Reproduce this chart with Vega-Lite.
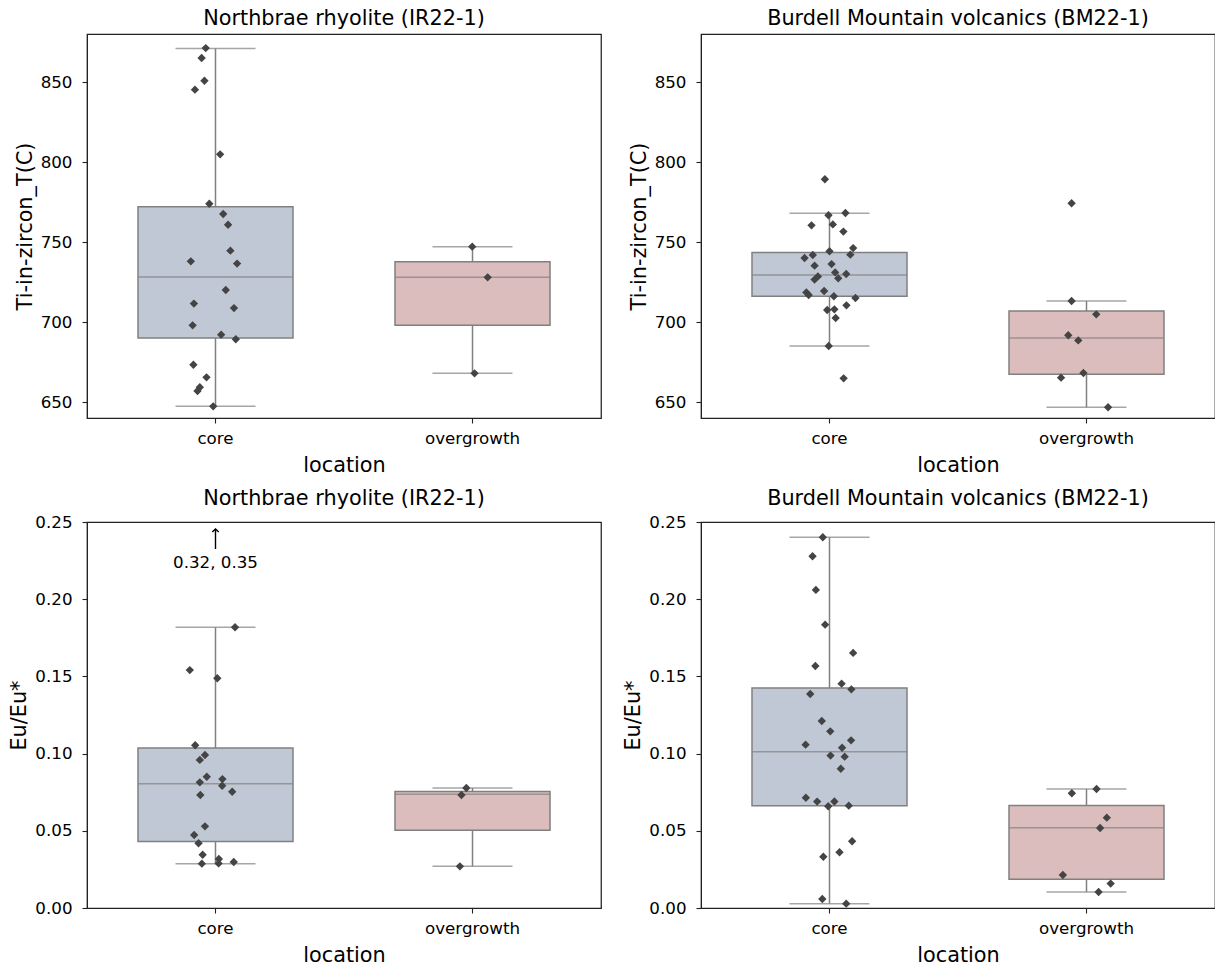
{
  "$schema": "https://vega.github.io/schema/vega-lite/v6.json",
  "padding": {"left": 8, "top": 7, "right": 0, "bottom": 0},
  "background": "white",
  "config": {
    "font": "DejaVu Sans",
    "view": {"stroke": "#222222", "strokeWidth": 1.25},
    "axis": {"grid": false, "labelFont": "DejaVu Sans", "labelFontSize": 16.7, "labelColor": "#000000", "titleFont": "DejaVu Sans", "titleFontSize": 20.8, "titleFontWeight": "normal", "titleColor": "#000000", "tickColor": "#222222", "domainColor": "#222222", "tickSize": 5, "tickWidth": 1.1},
    "axisX": {"labelPadding": 7, "titlePadding": 9},
    "axisY": {"labelPadding": 10, "titlePadding": 5},
    "title": {"font": "DejaVu Sans", "fontSize": 20.8, "fontWeight": "normal", "color": "#000000", "offset": 4, "baseline": "alphabetic"}
  },
  "datasets": {
    "boxes": [
      {"panel": "TL", "location": "core", "lower": 647.3, "q1": 690.0, "median": 728.1, "q3": 772.1, "upper": 871.0},
      {"panel": "TL", "location": "overgrowth", "lower": 667.9, "q1": 698.0, "median": 728.0, "q3": 737.6, "upper": 747.1},
      {"panel": "TR", "location": "core", "lower": 685.0, "q1": 716.1, "median": 729.4, "q3": 743.5, "upper": 767.9},
      {"panel": "TR", "location": "overgrowth", "lower": 646.7, "q1": 667.3, "median": 690.0, "q3": 706.8, "upper": 713.1},
      {"panel": "BL", "location": "core", "lower": 0.0287, "q1": 0.043, "median": 0.0805, "q3": 0.1036, "upper": 0.1818},
      {"panel": "BL", "location": "overgrowth", "lower": 0.027, "q1": 0.0503, "median": 0.0736, "q3": 0.0755, "upper": 0.0777},
      {"panel": "BR", "location": "core", "lower": 0.0028, "q1": 0.0663, "median": 0.1012, "q3": 0.1425, "upper": 0.2401},
      {"panel": "BR", "location": "overgrowth", "lower": 0.0104, "q1": 0.0186, "median": 0.052, "q3": 0.0664, "upper": 0.0771}
    ],
    "pts": [
      {"panel": "TL", "location": "core", "value": 871.2, "jitter": -0.038},
      {"panel": "TL", "location": "core", "value": 865.0, "jitter": -0.054},
      {"panel": "TL", "location": "core", "value": 850.8, "jitter": -0.043},
      {"panel": "TL", "location": "core", "value": 845.2, "jitter": -0.080},
      {"panel": "TL", "location": "core", "value": 804.8, "jitter": 0.018},
      {"panel": "TL", "location": "core", "value": 773.9, "jitter": -0.024},
      {"panel": "TL", "location": "core", "value": 767.5, "jitter": 0.030},
      {"panel": "TL", "location": "core", "value": 760.8, "jitter": 0.049},
      {"panel": "TL", "location": "core", "value": 744.6, "jitter": 0.058},
      {"panel": "TL", "location": "core", "value": 737.9, "jitter": -0.096},
      {"panel": "TL", "location": "core", "value": 736.5, "jitter": 0.084},
      {"panel": "TL", "location": "core", "value": 720.0, "jitter": 0.040},
      {"panel": "TL", "location": "core", "value": 711.5, "jitter": -0.084},
      {"panel": "TL", "location": "core", "value": 708.7, "jitter": 0.072},
      {"panel": "TL", "location": "core", "value": 697.9, "jitter": -0.089},
      {"panel": "TL", "location": "core", "value": 692.1, "jitter": 0.022},
      {"panel": "TL", "location": "core", "value": 689.2, "jitter": 0.079},
      {"panel": "TL", "location": "core", "value": 673.3, "jitter": -0.086},
      {"panel": "TL", "location": "core", "value": 665.4, "jitter": -0.035},
      {"panel": "TL", "location": "core", "value": 659.2, "jitter": -0.061},
      {"panel": "TL", "location": "core", "value": 656.9, "jitter": -0.070},
      {"panel": "TL", "location": "core", "value": 647.3, "jitter": -0.009},
      {"panel": "TL", "location": "overgrowth", "value": 747.1, "jitter": -0.001},
      {"panel": "TL", "location": "overgrowth", "value": 727.9, "jitter": 0.059},
      {"panel": "TL", "location": "overgrowth", "value": 667.9, "jitter": 0.008},
      {"panel": "TR", "location": "core", "value": 789.2, "jitter": -0.018},
      {"panel": "TR", "location": "core", "value": 766.7, "jitter": -0.004},
      {"panel": "TR", "location": "core", "value": 768.1, "jitter": 0.062},
      {"panel": "TR", "location": "core", "value": 760.4, "jitter": -0.070},
      {"panel": "TR", "location": "core", "value": 761.0, "jitter": 0.013},
      {"panel": "TR", "location": "core", "value": 756.5, "jitter": 0.054},
      {"panel": "TR", "location": "core", "value": 746.2, "jitter": 0.092},
      {"panel": "TR", "location": "core", "value": 744.2, "jitter": 0.0},
      {"panel": "TR", "location": "core", "value": 742.1, "jitter": 0.081},
      {"panel": "TR", "location": "core", "value": 741.9, "jitter": -0.065},
      {"panel": "TR", "location": "core", "value": 740.0, "jitter": -0.097},
      {"panel": "TR", "location": "core", "value": 735.2, "jitter": -0.058},
      {"panel": "TR", "location": "core", "value": 736.2, "jitter": 0.008},
      {"panel": "TR", "location": "core", "value": 731.0, "jitter": 0.022},
      {"panel": "TR", "location": "core", "value": 730.0, "jitter": 0.065},
      {"panel": "TR", "location": "core", "value": 728.5, "jitter": -0.045},
      {"panel": "TR", "location": "core", "value": 726.5, "jitter": -0.058},
      {"panel": "TR", "location": "core", "value": 727.3, "jitter": 0.034},
      {"panel": "TR", "location": "core", "value": 718.5, "jitter": -0.090},
      {"panel": "TR", "location": "core", "value": 716.9, "jitter": -0.081},
      {"panel": "TR", "location": "core", "value": 719.4, "jitter": -0.021},
      {"panel": "TR", "location": "core", "value": 716.1, "jitter": 0.017},
      {"panel": "TR", "location": "core", "value": 715.0, "jitter": 0.101},
      {"panel": "TR", "location": "core", "value": 710.4, "jitter": 0.066},
      {"panel": "TR", "location": "core", "value": 707.5, "jitter": -0.009},
      {"panel": "TR", "location": "core", "value": 707.9, "jitter": 0.019},
      {"panel": "TR", "location": "core", "value": 702.5, "jitter": 0.024},
      {"panel": "TR", "location": "core", "value": 685.0, "jitter": -0.003},
      {"panel": "TR", "location": "core", "value": 664.8, "jitter": 0.055},
      {"panel": "TR", "location": "overgrowth", "value": 774.2, "jitter": -0.058},
      {"panel": "TR", "location": "overgrowth", "value": 713.1, "jitter": -0.058},
      {"panel": "TR", "location": "overgrowth", "value": 704.8, "jitter": 0.038},
      {"panel": "TR", "location": "overgrowth", "value": 691.7, "jitter": -0.071},
      {"panel": "TR", "location": "overgrowth", "value": 688.5, "jitter": -0.032},
      {"panel": "TR", "location": "overgrowth", "value": 668.1, "jitter": -0.012},
      {"panel": "TR", "location": "overgrowth", "value": 665.2, "jitter": -0.099},
      {"panel": "TR", "location": "overgrowth", "value": 646.7, "jitter": 0.084},
      {"panel": "BL", "location": "core", "value": 0.35, "jitter": 0.0},
      {"panel": "BL", "location": "core", "value": 0.32, "jitter": 0.0},
      {"panel": "BL", "location": "core", "value": 0.1818, "jitter": 0.076},
      {"panel": "BL", "location": "core", "value": 0.1541, "jitter": -0.100},
      {"panel": "BL", "location": "core", "value": 0.1488, "jitter": 0.007},
      {"panel": "BL", "location": "core", "value": 0.1054, "jitter": -0.079},
      {"panel": "BL", "location": "core", "value": 0.0991, "jitter": -0.041},
      {"panel": "BL", "location": "core", "value": 0.0959, "jitter": -0.061},
      {"panel": "BL", "location": "core", "value": 0.0850, "jitter": -0.034},
      {"panel": "BL", "location": "core", "value": 0.0835, "jitter": 0.027},
      {"panel": "BL", "location": "core", "value": 0.0814, "jitter": -0.061},
      {"panel": "BL", "location": "core", "value": 0.0792, "jitter": 0.026},
      {"panel": "BL", "location": "core", "value": 0.0753, "jitter": 0.065},
      {"panel": "BL", "location": "core", "value": 0.0732, "jitter": -0.059},
      {"panel": "BL", "location": "core", "value": 0.0529, "jitter": -0.041},
      {"panel": "BL", "location": "core", "value": 0.0473, "jitter": -0.083},
      {"panel": "BL", "location": "core", "value": 0.0419, "jitter": -0.066},
      {"panel": "BL", "location": "core", "value": 0.0345, "jitter": -0.050},
      {"panel": "BL", "location": "core", "value": 0.0317, "jitter": 0.013},
      {"panel": "BL", "location": "core", "value": 0.0289, "jitter": 0.012},
      {"panel": "BL", "location": "core", "value": 0.0287, "jitter": -0.053},
      {"panel": "BL", "location": "core", "value": 0.0298, "jitter": 0.071},
      {"panel": "BL", "location": "overgrowth", "value": 0.0777, "jitter": -0.024},
      {"panel": "BL", "location": "overgrowth", "value": 0.0732, "jitter": -0.043},
      {"panel": "BL", "location": "overgrowth", "value": 0.0270, "jitter": -0.049},
      {"panel": "BR", "location": "core", "value": 0.2401, "jitter": -0.026},
      {"panel": "BR", "location": "core", "value": 0.2278, "jitter": -0.066},
      {"panel": "BR", "location": "core", "value": 0.2060, "jitter": -0.053},
      {"panel": "BR", "location": "core", "value": 0.1835, "jitter": -0.017},
      {"panel": "BR", "location": "core", "value": 0.1652, "jitter": 0.092},
      {"panel": "BR", "location": "core", "value": 0.1567, "jitter": -0.055},
      {"panel": "BR", "location": "core", "value": 0.1453, "jitter": 0.047},
      {"panel": "BR", "location": "core", "value": 0.1416, "jitter": 0.085},
      {"panel": "BR", "location": "core", "value": 0.1386, "jitter": -0.075},
      {"panel": "BR", "location": "core", "value": 0.1211, "jitter": -0.030},
      {"panel": "BR", "location": "core", "value": 0.1144, "jitter": 0.003},
      {"panel": "BR", "location": "core", "value": 0.1058, "jitter": -0.093},
      {"panel": "BR", "location": "core", "value": 0.1086, "jitter": 0.084},
      {"panel": "BR", "location": "core", "value": 0.1038, "jitter": 0.049},
      {"panel": "BR", "location": "core", "value": 0.0987, "jitter": 0.004},
      {"panel": "BR", "location": "core", "value": 0.0980, "jitter": 0.059},
      {"panel": "BR", "location": "core", "value": 0.0902, "jitter": 0.044},
      {"panel": "BR", "location": "core", "value": 0.0714, "jitter": -0.092},
      {"panel": "BR", "location": "core", "value": 0.0689, "jitter": -0.048},
      {"panel": "BR", "location": "core", "value": 0.0690, "jitter": 0.019},
      {"panel": "BR", "location": "core", "value": 0.0659, "jitter": -0.005},
      {"panel": "BR", "location": "core", "value": 0.0663, "jitter": 0.075},
      {"panel": "BR", "location": "core", "value": 0.0432, "jitter": 0.088},
      {"panel": "BR", "location": "core", "value": 0.0361, "jitter": 0.039},
      {"panel": "BR", "location": "core", "value": 0.0332, "jitter": -0.024},
      {"panel": "BR", "location": "core", "value": 0.0058, "jitter": -0.028},
      {"panel": "BR", "location": "core", "value": 0.0028, "jitter": 0.065},
      {"panel": "BR", "location": "overgrowth", "value": 0.0771, "jitter": 0.039},
      {"panel": "BR", "location": "overgrowth", "value": 0.0743, "jitter": -0.057},
      {"panel": "BR", "location": "overgrowth", "value": 0.0585, "jitter": 0.079},
      {"panel": "BR", "location": "overgrowth", "value": 0.0518, "jitter": 0.053},
      {"panel": "BR", "location": "overgrowth", "value": 0.0214, "jitter": -0.092},
      {"panel": "BR", "location": "overgrowth", "value": 0.0158, "jitter": 0.094},
      {"panel": "BR", "location": "overgrowth", "value": 0.0104, "jitter": 0.047}
    ],
    "annot": [
      {"location": "core", "tip": 0.2455, "tail": 0.2325, "labelpos": 0.2235, "label": "0.32, 0.35"}
    ]
  },
  "columns": 2,
  "bounds": "flush",
  "spacing": {"row": 104, "column": 100},
  "concat": [
    {
      "title": "Northbrae rhyolite (IR22-1)",
      "width": 514, "height": 384,
      "encoding": {"x": {"field": "location", "type": "nominal", "sort": ["core", "overgrowth"], "scale": {"type": "band", "paddingInner": 0, "paddingOuter": 0}, "axis": {"labelAngle": 0, "title": "location"}}},
      "layer": [
        {"data": {"name": "boxes"}, "transform": [{"filter": "datum.panel === 'TL'"}], "mark": {"type": "rule", "color": "#808080", "strokeWidth": 1.5}, "encoding": {"y": {"field": "lower", "type": "quantitative", "scale": {"domain": [640, 880], "nice": false, "zero": false}, "axis": {"values": [650, 700, 750, 800, 850], "title": "Ti-in-zircon_T(C)"}}, "y2": {"field": "upper"}}},
        {"data": {"name": "boxes"}, "transform": [{"filter": "datum.panel === 'TL'"}], "mark": {"type": "tick", "size": 80, "thickness": 1.5, "color": "#808080"}, "encoding": {"y": {"field": "lower", "type": "quantitative"}}},
        {"data": {"name": "boxes"}, "transform": [{"filter": "datum.panel === 'TL'"}], "mark": {"type": "tick", "size": 80, "thickness": 1.5, "color": "#808080"}, "encoding": {"y": {"field": "upper", "type": "quantitative"}}},
        {"data": {"name": "boxes"}, "transform": [{"filter": "datum.panel === 'TL'"}], "mark": {"type": "bar", "size": 155, "stroke": "#808080", "strokeWidth": 1.5}, "encoding": {"y": {"field": "q1", "type": "quantitative"}, "y2": {"field": "q3"}, "color": {"field": "location", "type": "nominal", "scale": {"domain": ["core", "overgrowth"], "range": ["#c0c8d6", "#dbbdbd"]}, "legend": null}}},
        {"data": {"name": "boxes"}, "transform": [{"filter": "datum.panel === 'TL'"}], "mark": {"type": "tick", "size": 155, "thickness": 1.5, "color": "#808080"}, "encoding": {"y": {"field": "median", "type": "quantitative"}}},
        {"data": {"name": "pts"}, "transform": [{"filter": "datum.panel === 'TL'"}], "mark": {"type": "point", "shape": "diamond", "filled": true, "size": 70, "color": "#444444", "opacity": 1, "clip": true}, "encoding": {"y": {"field": "value", "type": "quantitative"}, "xOffset": {"field": "jitter", "type": "quantitative", "scale": {"domain": [-0.5, 0.5]}}}}
      ]
    },
    {
      "title": "Burdell Mountain volcanics (BM22-1)",
      "width": 514, "height": 384,
      "encoding": {"x": {"field": "location", "type": "nominal", "sort": ["core", "overgrowth"], "scale": {"type": "band", "paddingInner": 0, "paddingOuter": 0}, "axis": {"labelAngle": 0, "title": "location"}}},
      "layer": [
        {"data": {"name": "boxes"}, "transform": [{"filter": "datum.panel === 'TR'"}], "mark": {"type": "rule", "color": "#808080", "strokeWidth": 1.5}, "encoding": {"y": {"field": "lower", "type": "quantitative", "scale": {"domain": [640, 880], "nice": false, "zero": false}, "axis": {"values": [650, 700, 750, 800, 850], "title": "Ti-in-zircon_T(C)"}}, "y2": {"field": "upper"}}},
        {"data": {"name": "boxes"}, "transform": [{"filter": "datum.panel === 'TR'"}], "mark": {"type": "tick", "size": 80, "thickness": 1.5, "color": "#808080"}, "encoding": {"y": {"field": "lower", "type": "quantitative"}}},
        {"data": {"name": "boxes"}, "transform": [{"filter": "datum.panel === 'TR'"}], "mark": {"type": "tick", "size": 80, "thickness": 1.5, "color": "#808080"}, "encoding": {"y": {"field": "upper", "type": "quantitative"}}},
        {"data": {"name": "boxes"}, "transform": [{"filter": "datum.panel === 'TR'"}], "mark": {"type": "bar", "size": 155, "stroke": "#808080", "strokeWidth": 1.5}, "encoding": {"y": {"field": "q1", "type": "quantitative"}, "y2": {"field": "q3"}, "color": {"field": "location", "type": "nominal", "scale": {"domain": ["core", "overgrowth"], "range": ["#c0c8d6", "#dbbdbd"]}, "legend": null}}},
        {"data": {"name": "boxes"}, "transform": [{"filter": "datum.panel === 'TR'"}], "mark": {"type": "tick", "size": 155, "thickness": 1.5, "color": "#808080"}, "encoding": {"y": {"field": "median", "type": "quantitative"}}},
        {"data": {"name": "pts"}, "transform": [{"filter": "datum.panel === 'TR'"}], "mark": {"type": "point", "shape": "diamond", "filled": true, "size": 70, "color": "#444444", "opacity": 1, "clip": true}, "encoding": {"y": {"field": "value", "type": "quantitative"}, "xOffset": {"field": "jitter", "type": "quantitative", "scale": {"domain": [-0.5, 0.5]}}}}
      ]
    },
    {
      "title": "Northbrae rhyolite (IR22-1)",
      "width": 514, "height": 386,
      "encoding": {"x": {"field": "location", "type": "nominal", "sort": ["core", "overgrowth"], "scale": {"type": "band", "paddingInner": 0, "paddingOuter": 0}, "axis": {"labelAngle": 0, "title": "location"}}},
      "layer": [
        {"data": {"name": "boxes"}, "transform": [{"filter": "datum.panel === 'BL'"}], "mark": {"type": "rule", "color": "#808080", "strokeWidth": 1.5}, "encoding": {"y": {"field": "lower", "type": "quantitative", "scale": {"domain": [0, 0.25], "nice": false}, "axis": {"values": [0, 0.05, 0.1, 0.15, 0.2, 0.25], "format": ".2f", "title": "Eu/Eu*"}}, "y2": {"field": "upper"}}},
        {"data": {"name": "boxes"}, "transform": [{"filter": "datum.panel === 'BL'"}], "mark": {"type": "tick", "size": 80, "thickness": 1.5, "color": "#808080"}, "encoding": {"y": {"field": "lower", "type": "quantitative"}}},
        {"data": {"name": "boxes"}, "transform": [{"filter": "datum.panel === 'BL'"}], "mark": {"type": "tick", "size": 80, "thickness": 1.5, "color": "#808080"}, "encoding": {"y": {"field": "upper", "type": "quantitative"}}},
        {"data": {"name": "boxes"}, "transform": [{"filter": "datum.panel === 'BL'"}], "mark": {"type": "bar", "size": 155, "stroke": "#808080", "strokeWidth": 1.5}, "encoding": {"y": {"field": "q1", "type": "quantitative"}, "y2": {"field": "q3"}, "color": {"field": "location", "type": "nominal", "scale": {"domain": ["core", "overgrowth"], "range": ["#c0c8d6", "#dbbdbd"]}, "legend": null}}},
        {"data": {"name": "boxes"}, "transform": [{"filter": "datum.panel === 'BL'"}], "mark": {"type": "tick", "size": 155, "thickness": 1.5, "color": "#808080"}, "encoding": {"y": {"field": "median", "type": "quantitative"}}},
        {"data": {"name": "pts"}, "transform": [{"filter": "datum.panel === 'BL'"}], "mark": {"type": "point", "shape": "diamond", "filled": true, "size": 70, "color": "#444444", "opacity": 1, "clip": true}, "encoding": {"y": {"field": "value", "type": "quantitative"}, "xOffset": {"field": "jitter", "type": "quantitative", "scale": {"domain": [-0.5, 0.5]}}}},
        {"data": {"name": "annot"}, "mark": {"type": "rule", "color": "#000000", "strokeWidth": 1.4}, "encoding": {"y": {"field": "tail", "type": "quantitative"}, "y2": {"field": "tip"}}},
        {"data": {"name": "annot"}, "mark": {"type": "point", "shape": "M-1,1L0,0L1,1", "filled": false, "size": 40, "color": "#000000", "strokeWidth": 1.4, "opacity": 1}, "encoding": {"y": {"field": "tip", "type": "quantitative"}}},
        {"data": {"name": "annot"}, "mark": {"type": "text", "fontSize": 16.7, "color": "#000000", "baseline": "middle", "align": "center"}, "encoding": {"y": {"field": "labelpos", "type": "quantitative"}, "text": {"field": "label"}}}
      ]
    },
    {
      "title": "Burdell Mountain volcanics (BM22-1)",
      "width": 514, "height": 386,
      "encoding": {"x": {"field": "location", "type": "nominal", "sort": ["core", "overgrowth"], "scale": {"type": "band", "paddingInner": 0, "paddingOuter": 0}, "axis": {"labelAngle": 0, "title": "location"}}},
      "layer": [
        {"data": {"name": "boxes"}, "transform": [{"filter": "datum.panel === 'BR'"}], "mark": {"type": "rule", "color": "#808080", "strokeWidth": 1.5}, "encoding": {"y": {"field": "lower", "type": "quantitative", "scale": {"domain": [0, 0.25], "nice": false}, "axis": {"values": [0, 0.05, 0.1, 0.15, 0.2, 0.25], "format": ".2f", "title": "Eu/Eu*"}}, "y2": {"field": "upper"}}},
        {"data": {"name": "boxes"}, "transform": [{"filter": "datum.panel === 'BR'"}], "mark": {"type": "tick", "size": 80, "thickness": 1.5, "color": "#808080"}, "encoding": {"y": {"field": "lower", "type": "quantitative"}}},
        {"data": {"name": "boxes"}, "transform": [{"filter": "datum.panel === 'BR'"}], "mark": {"type": "tick", "size": 80, "thickness": 1.5, "color": "#808080"}, "encoding": {"y": {"field": "upper", "type": "quantitative"}}},
        {"data": {"name": "boxes"}, "transform": [{"filter": "datum.panel === 'BR'"}], "mark": {"type": "bar", "size": 155, "stroke": "#808080", "strokeWidth": 1.5}, "encoding": {"y": {"field": "q1", "type": "quantitative"}, "y2": {"field": "q3"}, "color": {"field": "location", "type": "nominal", "scale": {"domain": ["core", "overgrowth"], "range": ["#c0c8d6", "#dbbdbd"]}, "legend": null}}},
        {"data": {"name": "boxes"}, "transform": [{"filter": "datum.panel === 'BR'"}], "mark": {"type": "tick", "size": 155, "thickness": 1.5, "color": "#808080"}, "encoding": {"y": {"field": "median", "type": "quantitative"}}},
        {"data": {"name": "pts"}, "transform": [{"filter": "datum.panel === 'BR'"}], "mark": {"type": "point", "shape": "diamond", "filled": true, "size": 70, "color": "#444444", "opacity": 1, "clip": true}, "encoding": {"y": {"field": "value", "type": "quantitative"}, "xOffset": {"field": "jitter", "type": "quantitative", "scale": {"domain": [-0.5, 0.5]}}}}
      ]
    }
  ]
}
